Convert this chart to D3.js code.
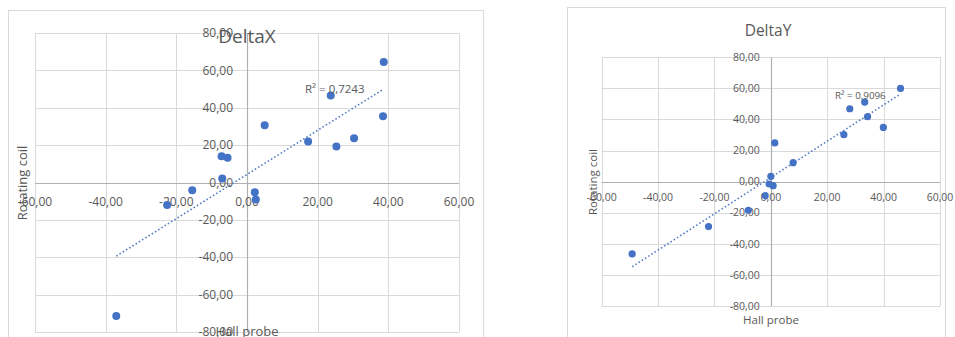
<!DOCTYPE html>
<html>
<head>
<meta charset="utf-8">
<script src="https://cdn.jsdelivr.net/npm/d3@7"></script>
<style>
  html, body { margin: 0; padding: 0; background: #fff; }
  svg { display: block; }
  text { font-family: "Open Sans", "DejaVu Sans", sans-serif; fill: #595959; }
</style>
</head>
<body>
<svg id="chart" width="955" height="337"></svg>
<script>
// DeltaX: Hall probe vs rotating coil
const deltaXHall = [38.7, 23.7, 38.5, 5.0, 17.3, 25.3, 30.3, -7.2, -5.5, -7.0, -15.5, -22.6, 2.2, 2.5, -37.0];
const deltaXCoil = [64.5, 46.5, 35.5, 30.6, 21.9, 19.3, 23.7, 14.1, 13.2, 2.1, -4.1, -12.1, -5.2, -9.1, -71.5];

// DeltaY: Hall probe vs rotating coil
const deltaYHall = [46.0, 33.3, 28.0, 34.3, 39.9, 25.9, 1.4, 7.9, 0.0, -0.6, 0.8, -2.0, -8.0, -22.1, -49.2];
const deltaYCoil = [60.0, 51.2, 46.9, 41.8, 34.9, 30.2, 24.9, 12.2, 3.4, -1.5, -2.6, -9.0, -18.4, -28.9, -46.5];

// Axis ticks
const xTicks = [-60, -40, -20, 0, 20, 40, 60];
const yTicks = [-80, -60, -40, -20, 0, 20, 40, 60, 80];

// R² labels
const r2DeltaX = "0,7243";
const r2DeltaY = "0,9096";

const locale = d3.formatLocale({decimal: ",", thousands: " ", grouping: [3], currency: ["", ""], minus: "-"});
const fmt = locale.format(".2f");

const svg = d3.select("#chart");

function linearFit(xs, ys) {
  const mx = d3.mean(xs), my = d3.mean(ys);
  let sxy = 0, sxx = 0;
  xs.forEach((x, i) => { sxy += (x - mx) * (ys[i] - my); sxx += (x - mx) * (x - mx); });
  const slope = sxy / sxx;
  return {slope, intercept: my - slope * mx};
}

function drawChart(o) {
  const g = svg.append("g");

  // chart frame
  g.append("rect")
    .attr("x", o.box[0] + 0.5).attr("y", o.box[1] + 0.5)
    .attr("width", o.box[2]).attr("height", o.box[3])
    .attr("fill", "#fff").attr("stroke", "#d9d9d9");

  const x = d3.scaleLinear().domain([-60, 60]).range([o.plot[0], o.plot[1]]);
  const y = d3.scaleLinear().domain([-80, 80]).range([o.plot[3], o.plot[2]]);

  // gridlines
  g.append("g").selectAll("line").data(xTicks).join("line")
    .attr("x1", d => Math.round(x(d)) + 0.5).attr("x2", d => Math.round(x(d)) + 0.5)
    .attr("y1", y(80)).attr("y2", y(-80))
    .attr("stroke", "#d9d9d9").attr("stroke-width", 1);
  g.append("g").selectAll("line").data(yTicks).join("line")
    .attr("y1", d => Math.round(y(d)) + 0.5).attr("y2", d => Math.round(y(d)) + 0.5)
    .attr("x1", x(-60)).attr("x2", x(60))
    .attr("stroke", "#d9d9d9").attr("stroke-width", 1);

  // axes through the origin
  g.append("line")
    .attr("x1", Math.round(x(0)) + 0.5).attr("x2", Math.round(x(0)) + 0.5)
    .attr("y1", y(80)).attr("y2", y(-80))
    .attr("stroke", "#b0b0b0").attr("stroke-width", 1.2);
  g.append("line")
    .attr("y1", Math.round(y(0)) + 0.5).attr("y2", Math.round(y(0)) + 0.5)
    .attr("x1", x(-60)).attr("x2", x(60))
    .attr("stroke", "#b0b0b0").attr("stroke-width", 1.2);

  // tick labels
  g.append("g").selectAll("text").data(yTicks).join("text")
    .attr("x", x(0) - o.yLabelGap).attr("y", d => y(d))
    .attr("dy", "0.35em").attr("text-anchor", "end")
    .attr("font-size", o.tickSize).text(d => fmt(d));
  g.append("g").selectAll("text").data(xTicks).join("text")
    .attr("x", d => x(d)).attr("y", y(0) + o.xLabelGap)
    .attr("dy", "0.35em").attr("text-anchor", "middle")
    .attr("font-size", o.tickSize).text(d => fmt(d));

  // linear trendline (least squares over the points)
  const fit = linearFit(o.xs, o.ys);
  const [xmin, xmax] = d3.extent(o.xs);
  g.append("line")
    .attr("x1", x(xmin)).attr("y1", y(fit.intercept + fit.slope * xmin))
    .attr("x2", x(xmax)).attr("y2", y(fit.intercept + fit.slope * xmax))
    .attr("stroke", "#5a7fc8").attr("stroke-width", 1.6)
    .attr("stroke-dasharray", "1.6,2.2");

  // points
  g.append("g").selectAll("circle").data(o.xs.map((d, i) => [d, o.ys[i]])).join("circle")
    .attr("cx", d => x(d[0])).attr("cy", d => y(d[1]))
    .attr("r", o.r).attr("fill", "#4472c4");

  // R² label
  g.append("text")
    .attr("x", o.r2Pos[0]).attr("y", o.r2Pos[1])
    .attr("dy", "0.35em").attr("font-size", o.r2Size)
    .text("R² = " + o.r2);

  // title
  g.append("text")
    .attr("x", o.titlePos[0]).attr("y", o.titlePos[1])
    .attr("text-anchor", "middle").attr("font-size", o.titleSize)
    .text(o.title);

  // axis titles
  g.append("text")
    .attr("transform", `translate(${o.yTitlePos[0]},${o.yTitlePos[1]}) rotate(-90)`)
    .attr("text-anchor", "middle").attr("dy", "0.35em")
    .attr("font-size", o.axisTitleSize).text("Rotating coil");
  g.append("text")
    .attr("x", o.xTitlePos[0]).attr("y", o.xTitlePos[1])
    .attr("text-anchor", "middle").attr("dy", "0.35em")
    .attr("font-size", o.axisTitleSize).text("Hall probe");
}

drawChart({
  title: "DeltaX", xs: deltaXHall, ys: deltaXCoil, r2: r2DeltaX,
  box: [8, 10, 475, 340], plot: [35, 459, 33, 332],
  tickSize: 12, yLabelGap: 14, xLabelGap: 19, r: 4,
  r2Pos: [305, 89], r2Size: 11.5,
  titlePos: [247, 43], titleSize: 19,
  yTitlePos: [22, 183], xTitlePos: [247, 331], axisTitleSize: 13
});

drawChart({
  title: "DeltaY", xs: deltaYHall, ys: deltaYCoil, r2: r2DeltaY,
  box: [567, 7, 378, 340], plot: [601.7, 940, 57.3, 306],
  tickSize: 10.5, yLabelGap: 11, xLabelGap: 16, r: 3.6,
  r2Pos: [835, 96], r2Size: 9.8,
  titlePos: [768, 36], titleSize: 15.5,
  yTitlePos: [593, 182], xTitlePos: [771, 319.5], axisTitleSize: 11.5
});
</script>
</body>
</html>
